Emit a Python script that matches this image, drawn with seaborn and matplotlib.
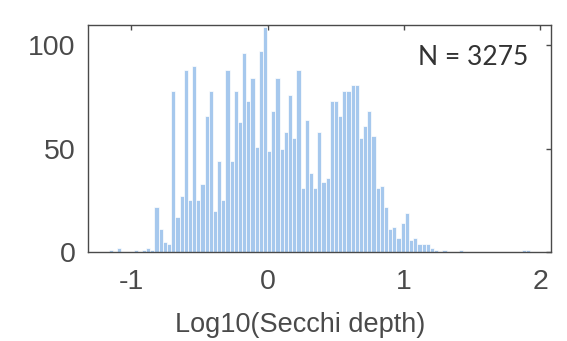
import numpy as np
import pandas as pd
import seaborn as sns
import matplotlib.pyplot as plt

# histogram of log10 secchi depth, 100 bins between data min and max
x_min = -1.168
x_max = 1.925
counts = [1, 0, 2, 0, 0, 0, 1, 0, 1, 2, 1,
          22, 11, 5, 4, 78, 17, 27, 88, 25, 90,
          25, 33, 66, 78, 20, 44, 25, 88, 44, 78,
          63, 96, 73, 84, 51, 97, 109, 49, 68, 84,
          50, 58, 76, 55, 88, 31, 64, 38, 31, 58,
          34, 36, 73, 73, 66, 78, 78, 81, 81, 55,
          61, 68, 56, 31, 32, 22, 11, 12, 7, 14,
          19, 6, 7, 4, 4, 4, 2, 1, 0, 1,
          0, 0, 0, 1, 0, 0, 0, 0, 0, 0,
          0, 0, 0, 0, 0, 0, 0, 0, 1, 1]
n_total = 3275
x_ticks = [-1, 0, 1, 2]
y_ticks = [0, 50, 100]

edges = np.linspace(x_min, x_max, len(counts) + 1)
df = pd.DataFrame({'logsd': (edges[:-1] + edges[1:]) / 2, 'n': counts})

sns.set_style('white')
plt.rcParams['font.family'] = ['Liberation Sans', 'DejaVu Sans']
plt.rcParams['axes.unicode_minus'] = False

fig = plt.figure(figsize=(5.67, 3.41), dpi=100)
ax = fig.add_axes([0.155, 0.261, 0.817, 0.667])

sns.histplot(data=df, x='logsd', weights='n', bins=list(edges), ax=ax,
             color='#a6c8ed', edgecolor='white', linewidth=0.5, alpha=1.0)

ax.set_xlim(-1.32, 2.08)
ax.set_ylim(0, 110)
ax.set_xticks(x_ticks)
ax.set_yticks(y_ticks)
ax.tick_params(direction='in', length=3.6, width=1, colors='#4a4a4a',
               labelsize=20.5, top=True, right=True, labeltop=False, labelright=False)
ax.tick_params(axis='x', pad=12)
ax.tick_params(axis='y', pad=9)
for s in ax.spines.values():
    s.set_color('#4a4a4a')
    s.set_linewidth(1.0)
    s.set_visible(True)

ax.set_xlabel('Log10(Secchi depth)', fontsize=19.5, color='#4a4a4a')
ax.xaxis.set_label_coords(0.458, -0.263)
ax.set_ylabel('')
ax.text(0.951, 0.822, 'N = %d' % n_total, transform=ax.transAxes,
        ha='right', va='baseline', fontsize=19, color='#333333', family=['Lato', 'DejaVu Sans'])

fig.savefig('out.png', dpi=100)
